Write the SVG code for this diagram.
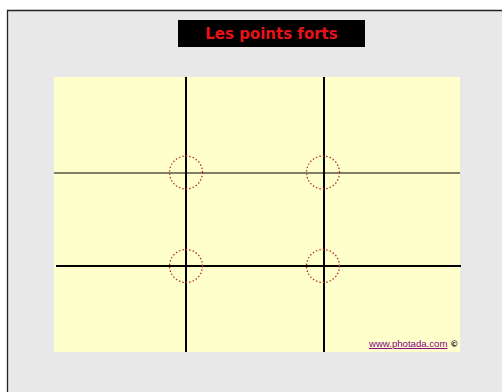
<svg xmlns="http://www.w3.org/2000/svg" width="502" height="392" viewBox="0 0 502 392">
<style>
.grid{stroke:#000;fill:none}
.pt{fill:none;stroke:#b5342a;stroke-width:1.3;stroke-dasharray:1.5 2}
</style>
<rect x="0" y="0" width="502" height="392" fill="#fff"/>
<rect x="7" y="10" width="495" height="382" fill="#e8e8e8"/>
<path d="M7.5 392V10.5H502" stroke="#222" stroke-width="1.3" fill="none"/>
<g id="title">
<rect x="178" y="20" width="187" height="27" fill="#000"/>
<text x="271.5" y="39" text-anchor="middle" font-family="'DejaVu Sans', sans-serif" font-weight="bold" font-size="15" fill="#e8121a">Les points forts</text>
</g>
<g id="photo">
<rect x="54" y="77" width="406" height="275" fill="#ffffcc"/>
</g>
<g id="connectors">
<line class="grid" x1="186" y1="77" x2="186" y2="352" stroke-width="2"/>
<line class="grid" x1="324" y1="77" x2="324" y2="352" stroke-width="2"/>
<line class="grid" x1="54" y1="173" x2="460" y2="173" stroke-width="1.2"/>
<line class="grid" x1="56" y1="266" x2="461" y2="266" stroke-width="2"/>
</g>
<g id="p1"><circle class="pt" cx="186" cy="172.5" r="16.5"/></g>
<g id="p2"><circle class="pt" cx="323" cy="172.5" r="16.5"/></g>
<g id="p3"><circle class="pt" cx="186" cy="266" r="16.5"/></g>
<g id="p4"><circle class="pt" cx="323" cy="266" r="16.5"/></g>
<g id="credit">
<text x="369" y="347" font-family="'Liberation Sans', Arial, sans-serif" font-size="9.6" fill="#800080" text-decoration="underline">www.photada.com</text>
<text x="450" y="347" font-family="'DejaVu Sans', sans-serif" font-size="8.5" font-weight="bold" fill="#333">©</text>
</g>
</svg>
